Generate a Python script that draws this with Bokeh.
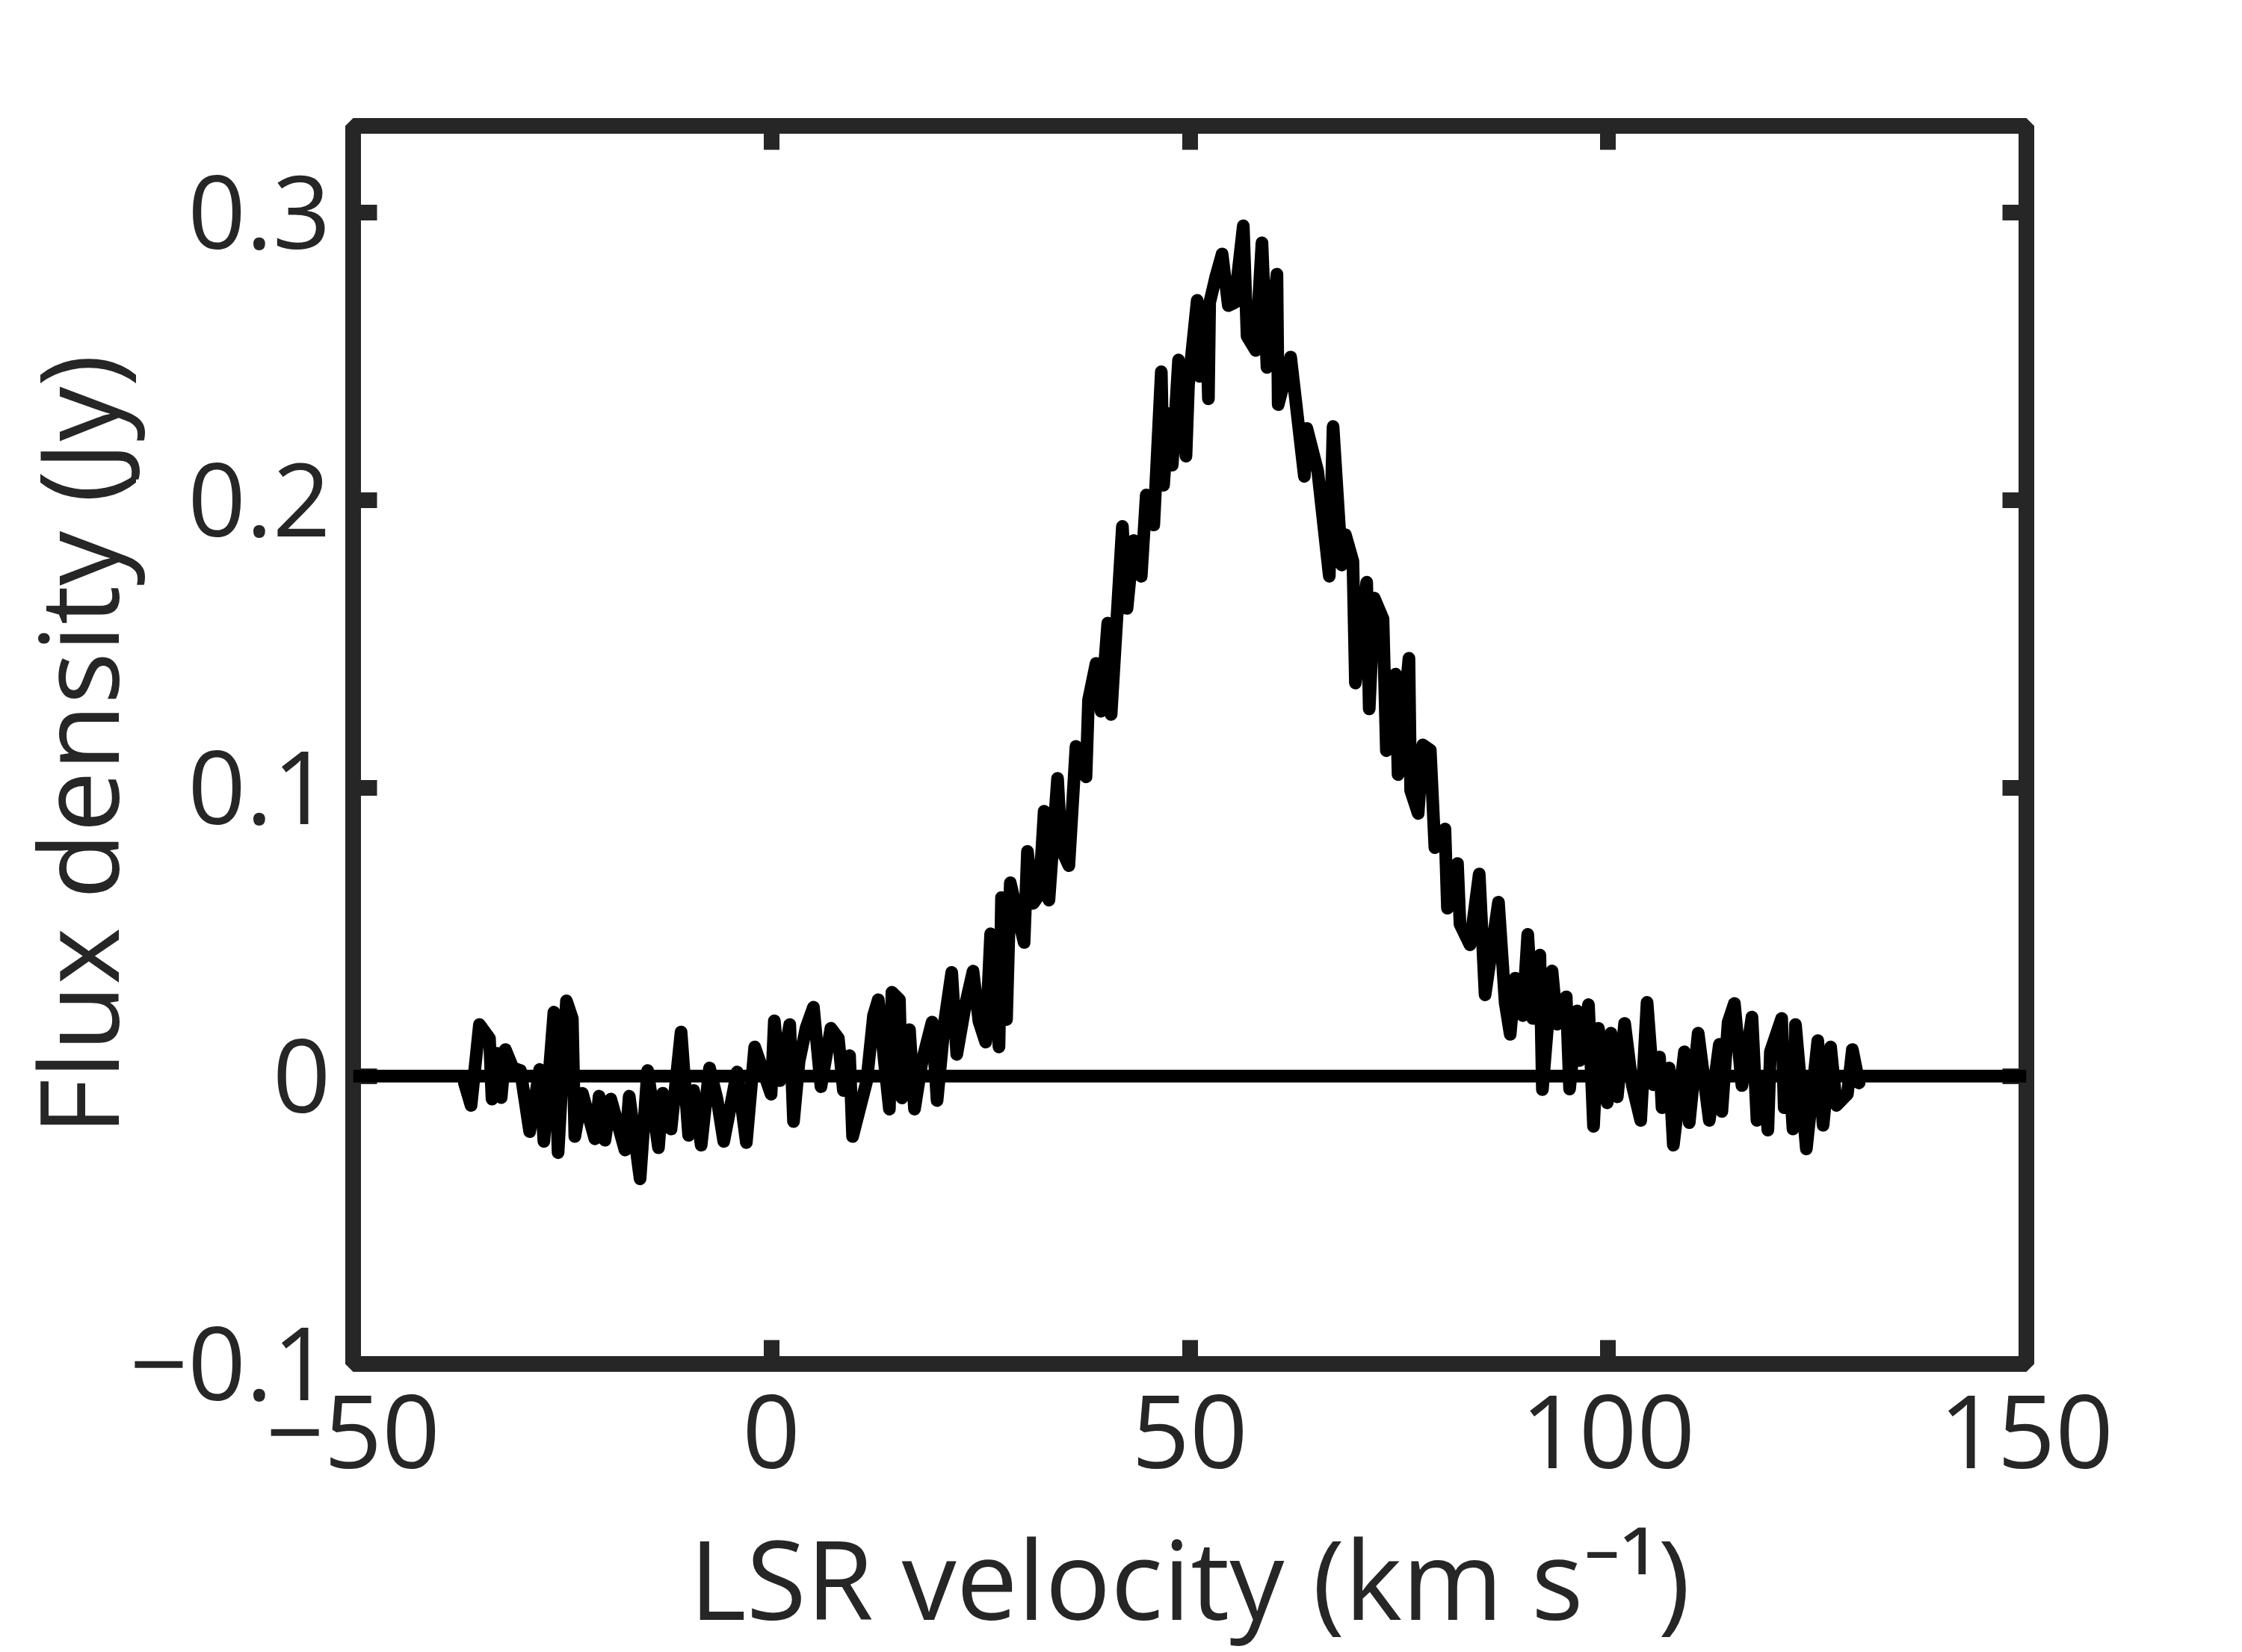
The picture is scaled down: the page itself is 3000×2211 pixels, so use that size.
from bokeh.plotting import figure
from bokeh.models import Range1d, Span, LinearAxis, FixedTicker
from bokeh.embed import file_html
from bokeh.resources import INLINE

# ---- data ----
vel = [-36.7, -35.9, -34.9, -33.7, -33.4, -32.8, -32.3, -31.8, -30.9, -30.0,
       -28.9, -27.7, -27.2, -26.0, -25.5, -24.5, -23.8, -23.5, -22.6, -21.1,
       -20.6, -19.9, -19.2, -17.5, -17.0, -15.7, -14.8, -13.5, -13.0, -12.0,
       -10.8, -9.9, -9.3, -8.4, -7.4, -6.5, -5.7, -4.1, -3.0, -2.0,
       -0.04, 0.35, 1.0, 2.19, 2.64, 3.3, 4.13, 5.02, 5.92, 7.11,
       8.0, 8.6, 9.34, 9.7, 11.4, 12.2, 12.77, 13.5, 14.1, 14.4,
       15.3, 15.6, 16.5, 17.1, 18.0, 19.2, 19.8, 20.7, 21.55, 22.15,
       23.2, 24.1, 24.8, 25.6, 26.2, 27.2, 27.5, 28.1, 28.55, 30.2,
       30.6, 31.3, 32.0, 32.6, 33.17, 34.2, 34.65, 35.55, 36.4, 37.6,
       37.9, 38.8, 39.4, 40.2, 40.6, 41.95, 42.5, 43.3, 44.2, 44.8,
       45.7, 46.6, 46.87, 47.46, 47.91, 48.66, 49.55, 49.85, 50.89, 51.19,
       52.0, 52.23, 52.38, 53.12, 53.87, 54.61, 55.36, 56.4, 56.85, 57.89,
       58.63, 59.23, 60.42, 60.57, 62.06, 63.7, 64.0, 65.3, 66.68, 67.13,
       68.17, 68.6, 69.5, 69.8, 71.15, 71.45, 72.05, 73.1, 73.5, 74.6,
       74.9, 76.2, 76.4, 77.3, 77.85, 78.75, 79.3, 80.5, 80.8, 82.0,
       82.3, 83.5, 84.6, 85.3, 86.9, 87.7, 88.3, 88.9, 89.8, 90.4,
       91.0, 91.85, 92.15, 93.3, 93.9, 95.0, 95.4, 96.3, 96.6, 97.66,
       98.26, 98.85, 99.9, 100.34, 101.1, 101.98, 102.9, 103.9, 104.66, 105.4,
       106.15, 106.45, 107.3, 107.8, 109.13, 109.7, 110.77, 112.1, 113.3, 113.6,
       114.35, 115.1, 116.0, 117.2, 117.8, 118.6, 119.1, 119.4, 120.75, 121.05,
       121.6, 122.1, 122.4, 123.7, 125.07, 125.7, 126.6, 127.3, 128.6, 129.2,
       130.0]

flux = [-0.0024, -0.0102, 0.0179, 0.0131, -0.0080, 0.0079, -0.0075, 0.0092, 0.0028, 0.0019,
        -0.0193, 0.0023, -0.0227, 0.0222, -0.0266, 0.0261, 0.0200, -0.0210, -0.0060, -0.0218,
        -0.0070, -0.0223, -0.0080, -0.0257, -0.0070, -0.0357, 0.0019, -0.0249, -0.0060, -0.0184,
        0.0153, -0.0206, -0.0050, -0.0240, 0.0028, -0.0080, -0.0227, 0.0014, -0.0231, 0.0101,
        -0.0063, 0.0192, -0.0016, 0.0179, -0.0158, 0.0050, 0.0166, 0.0239, -0.0037, 0.0166,
        0.0131, -0.0050, 0.0071, -0.0210, -0.0016, 0.0210, 0.0265, 0.0050, -0.0115, 0.0291,
        0.0265, -0.0076, 0.0161, -0.0115, 0.0050, 0.0187, -0.0085, 0.0190, 0.0360, 0.0075,
        0.0250, 0.0364, 0.0190, 0.0118, 0.0494, 0.0101, 0.0620, 0.0196, 0.0671, 0.0464,
        0.0780, 0.0600, 0.0630, 0.0920, 0.0611, 0.1034, 0.0788, 0.0731, 0.1145, 0.1039,
        0.1306, 0.1433, 0.1267, 0.1573, 0.1256, 0.1909, 0.1624, 0.1860, 0.1736, 0.2018,
        0.1914, 0.2446, 0.2052, 0.2300, 0.2122, 0.2487, 0.2153, 0.2400, 0.2694, 0.2430,
        0.2600, 0.2352, 0.2686, 0.2777, 0.2855, 0.2676, 0.2686, 0.2953, 0.2570, 0.2520,
        0.2894, 0.2461, 0.2785, 0.2332, 0.2497, 0.2083, 0.2249, 0.2100, 0.1736, 0.2256,
        0.1775, 0.1880, 0.1788, 0.1365, 0.1715, 0.1275, 0.1660, 0.1588, 0.1130, 0.1396,
        0.1047, 0.1451, 0.0992, 0.0912, 0.1150, 0.1132, 0.0793, 0.0858, 0.0583, 0.0738,
        0.0528, 0.0456, 0.0702, 0.0282, 0.0604, 0.0254, 0.0145, 0.0340, 0.0210, 0.0492,
        0.0200, 0.0420, -0.0047, 0.0365, 0.0180, 0.0275, -0.0045, 0.0226, 0.0054, 0.0248,
        -0.0175, 0.0166, -0.0093, 0.0149, -0.0072, 0.0183, -0.0033, -0.0154, 0.0256, -0.0030,
        0.0066, -0.0110, 0.0028, -0.0240, 0.0084, -0.0162, 0.0149, -0.0154, 0.0110, -0.0123,
        0.0187, 0.0252, -0.0033, 0.0205, -0.0154, 0.0000, -0.0188, 0.0084, 0.0200, -0.0110,
        0.0050, -0.0184, 0.0179, -0.0253, 0.0123, -0.0171, 0.0101, -0.0102, -0.0063, 0.0092,
        -0.0024]

x_ticks = [-50, 0, 50, 100, 150]
x_tick_labels = ["\u221250", "0", "50", "100", "150"]
y_ticks = [-0.1, 0, 0.1, 0.2, 0.3]
y_tick_labels = ["\u22120.1", "0", "0.1", "0.2", "0.3"]
x_label = "LSR velocity (km s\u207b\u00b9)"
y_label = "Flux density (Jy)"

FONT = "Open Sans"
INK = "#262626"

FW, FH = 2239, 1657          # frame size in px
BL, BT = 468, 168            # left / top borders in px
W, H = 2984, 2195

p = figure(frame_width=FW, frame_height=FH, output_backend="svg", toolbar_location=None,
           x_range=Range1d(-50, 150), y_range=Range1d(-0.1, 0.33),
           min_border_left=BL, min_border_right=W - BL - FW,
           min_border_top=BT, min_border_bottom=H - BT - FH,
           background_fill_color="white", border_fill_color="white")
p.grid.visible = False
p.outline_line_color = INK
p.outline_line_width = 21
p.outline_line_alpha = 1.0

zero = Span(location=0, dimension="width", line_color="black", line_width=17)
p.add_layout(zero)

p.line(vel, flux, line_color="black", line_width=17, line_join="round", line_cap="round")


def style_axis(ax, ticks, labels, show_labels):
    ax.ticker = FixedTicker(ticks=ticks)
    ax.axis_line_color = None
    ax.major_tick_in = 32
    ax.major_tick_out = 0
    ax.major_tick_line_width = 21
    ax.major_tick_line_color = INK
    ax.major_tick_line_cap = "butt"
    ax.minor_tick_line_color = None
    if show_labels:
        ax.major_label_overrides = {t: s for t, s in zip(ticks, labels)}
        ax.major_label_text_font = FONT
        ax.major_label_text_font_size = "136px"
        ax.major_label_text_color = INK
        ax.axis_label_text_font = FONT
        ax.axis_label_text_font_size = "146px"
        ax.axis_label_text_font_style = "normal"
        ax.axis_label_text_color = INK
    else:
        ax.major_label_text_font_size = "0px"
        ax.major_label_text_color = None
        ax.major_label_standoff = 0


style_axis(p.xaxis[0], x_ticks, x_tick_labels, True)
style_axis(p.yaxis[0], y_ticks, y_tick_labels, True)
p.xaxis[0].axis_label = x_label
p.yaxis[0].axis_label = y_label
p.xaxis[0].major_label_standoff = 42
p.xaxis[0].axis_label_standoff = 44
p.yaxis[0].major_label_standoff = 30
p.yaxis[0].axis_label_standoff = -32

top_ax = LinearAxis()
right_ax = LinearAxis()
style_axis(top_ax, x_ticks, x_tick_labels, False)
style_axis(right_ax, y_ticks, y_tick_labels, False)
p.add_layout(top_ax, "above")
p.add_layout(right_ax, "right")

with open("out.html", "w") as f:
    f.write(file_html(p, INLINE))
